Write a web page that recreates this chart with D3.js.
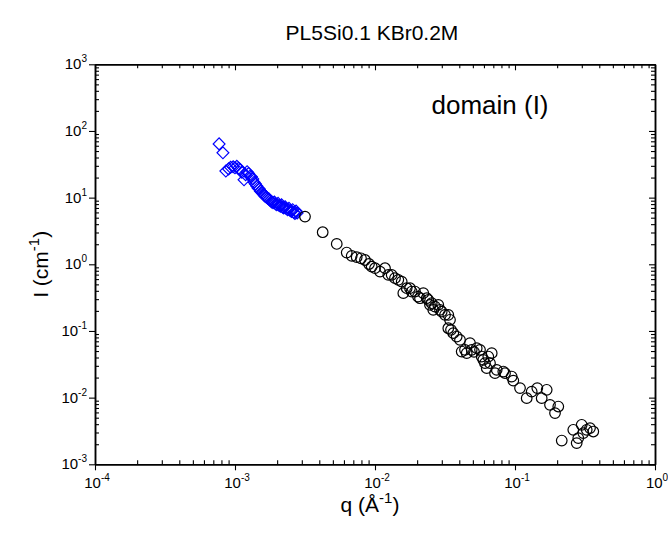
<!DOCTYPE html>
<html><head><meta charset="utf-8">
<script src="https://cdn.jsdelivr.net/npm/d3@7"></script>
<style>body{margin:0;background:#fff}svg{display:block;font-family:"Liberation Sans",Arial,sans-serif}</style>
</head><body><svg id="c" width="668" height="534"></svg>
<script>
// ---- data ----
const title = "PL5Si0.1 KBr0.2M";
const annotation = "domain (I)";
const xTickExp = [-4, -3, -2, -1, 0];
const yTickExp = [-3, -2, -1, 0, 1, 2, 3];
// blue diamonds (low q)
const qLow = [0.00077,0.00082,0.00086,0.00090,0.00093,0.00097,0.00100,0.00103,0.00106,0.00109,0.00112,0.00116,0.00119,0.00122,0.00125,0.00128,0.00131,0.00134,0.00137,0.00140,0.00143,0.00146,0.00149,0.00152,0.00155,0.00158,0.00161,0.00164,0.00167,0.00171,0.00175,0.00179,0.00183,0.00187,0.00191,0.00195,0.00199,0.00203,0.00207,0.00211,0.00215,0.00219,0.00223,0.00228,0.00233,0.00238,0.00243,0.00248,0.00253,0.00258,0.00263,0.00268,0.00273,0.00278];
const ILow = [64,47,25,27,28.5,29,28,29.5,27.5,26.5,24,18.5,22,24.5,23,21,20.5,19,17,16,15,14,13.5,12.5,12,11.5,11,10.5,10.2,9.8,9.5,9.0,8.6,8.4,8.6,8.0,7.8,8.2,7.6,7.4,7.8,7.2,7.0,7.3,6.8,6.6,6.9,6.4,6.2,6.6,6.0,5.8,6.3,5.9];
// black circles (high q)
const qHigh = [0.003162,0.00423,0.00533,0.00628,0.00682,0.00740,0.00794,0.00848,0.00906,0.00947,0.0100,0.01086,0.01179,0.01245,0.01316,0.01389,0.01467,0.01551,0.01593,0.01684,0.01778,0.01829,0.01931,0.02028,0.02096,0.02213,0.02341,0.02403,0.02471,0.02541,0.02608,0.02683,0.02832,0.02912,0.02995,0.03162,0.03339,0.03433,0.03339,0.03490,0.03624,0.03833,0.04046,0.04161,0.04394,0.04519,0.04771,0.04906,0.05094,0.05326,0.05623,0.05782,0.05937,0.06105,0.06279,0.06446,0.06628,0.06817,0.07196,0.07400,0.08249,0.08483,0.09471,0.09725,0.1086,0.1212,0.1316,0.1443,0.1551,0.1684,0.1778,0.1931,0.2038,0.2157,0.2608,0.2758,0.2832,0.2995,0.3075,0.3252,0.3433,0.3624];
const IHigh = [5.19,3.03,2.02,1.50,1.34,1.28,1.23,1.16,1.01,0.924,0.874,0.777,0.874,0.694,0.694,0.619,0.584,0.550,0.369,0.438,0.438,0.390,0.390,0.328,0.310,0.369,0.310,0.293,0.246,0.261,0.207,0.232,0.246,0.207,0.195,0.174,0.174,0.147,0.110,0.104,0.0927,0.0824,0.0735,0.0491,0.0521,0.0465,0.0656,0.0521,0.0486,0.0552,0.0521,0.0413,0.0369,0.0329,0.0277,0.0413,0.0329,0.0465,0.0233,0.0261,0.0246,0.0233,0.0207,0.0180,0.0139,0.00983,0.0123,0.0139,0.00983,0.0131,0.00780,0.00586,0.00735,0.00227,0.00329,0.00208,0.00247,0.00391,0.00294,0.00329,0.00349,0.00310];

// ---- layout ----
const L = 95, R = 655, T = 64.3, B = 464.3;
const svg = d3.select("#c");
const x = d3.scaleLog().domain([1e-4, 1]).range([L, R]);
const y = d3.scaleLog().domain([1e-3, 1e3]).range([B, T]);

const minors = (lo, hi) => { const a = []; for (let e = lo; e < hi; e++) for (let m = 2; m <= 9; m++) a.push(m * Math.pow(10, e)); return a; };
const xMaj = xTickExp.map(e => Math.pow(10, e)), yMaj = yTickExp.map(e => Math.pow(10, e));
const xMin = minors(-4, 0), yMin = minors(-3, 3);

function axis(gen, scale, vals, size, tr) {
  const g = svg.append("g").attr("transform", tr)
    .call(gen(scale).tickValues(vals).tickSize(size).tickFormat("").tickSizeOuter(0));
  g.selectAll("path").attr("stroke", "#000").attr("stroke-width", 1.5);
  g.selectAll("line").attr("stroke", "#000").attr("stroke-width", 1.1);
  return g;
}
axis(d3.axisBottom, x, xMin, -4, `translate(0,${B})`);
axis(d3.axisBottom, x, xMaj, 6, `translate(0,${B})`);
axis(d3.axisTop, x, xMin, -4, `translate(0,${T})`);
axis(d3.axisTop, x, xMaj, -6, `translate(0,${T})`);
axis(d3.axisLeft, y, yMin, -4, `translate(${L},0)`);
axis(d3.axisLeft, y, yMaj, 6, `translate(${L},0)`);
axis(d3.axisRight, y, yMin, -4, `translate(${R},0)`);
axis(d3.axisRight, y, yMaj, -6, `translate(${R},0)`);

// tick labels
xTickExp.forEach(e => {
  const t = svg.append("text").attr("x", x(Math.pow(10, e)) + 2).attr("y", B + 24)
    .attr("text-anchor", "middle").attr("font-size", 15).attr("fill", "#000");
  t.append("tspan").text("10");
  t.append("tspan").attr("font-size", 10).attr("dy", -7).text(e);
});
yTickExp.forEach(e => {
  const t = svg.append("text").attr("x", L - 8).attr("y", y(Math.pow(10, e)) + 5)
    .attr("text-anchor", "end").attr("font-size", 15).attr("fill", "#000");
  t.append("tspan").text("10");
  t.append("tspan").attr("font-size", 10).attr("dy", -7).text(e);
});

// axis titles
const xt = svg.append("text").attr("x", 370).attr("y", 512).attr("text-anchor", "middle").attr("font-size", 21);
xt.append("tspan").text("q (Å");
xt.append("tspan").attr("font-size", 15).attr("dy", -9).text("-1");
xt.append("tspan").attr("dy", 9).text(")");
const yt = svg.append("text").attr("transform", `translate(48,${(T + B) / 2}) rotate(-90)`).attr("text-anchor", "middle").attr("font-size", 21);
yt.append("tspan").text("I (cm");
yt.append("tspan").attr("font-size", 15).attr("dy", -9).text("-1");
yt.append("tspan").attr("dy", 9).text(")");

svg.append("text").attr("x", 372).attr("y", 40).attr("text-anchor", "middle").attr("font-size", 21).text(title);
svg.append("text").attr("x", 490).attr("y", 114).attr("text-anchor", "middle").attr("font-size", 26).text(annotation);

// data marks
const dataLow = qLow.map((q, i) => ({ q, I: ILow[i] }));
const dataHigh = qHigh.map((q, i) => ({ q, I: IHigh[i] }));
const plot = svg.append("g");
plot.selectAll(".d").data(dataLow).enter().append("path")
  .attr("d", d3.symbol(d3.symbolSquare, 70)())
  .attr("transform", d => `translate(${x(d.q)},${y(d.I)}) rotate(45)`)
  .attr("fill", "none").attr("stroke", "#0000ff").attr("stroke-width", 1.2);
plot.selectAll(".c").data(dataHigh).enter().append("circle")
  .attr("cx", d => x(d.q)).attr("cy", d => y(d.I)).attr("r", 5.3)
  .attr("fill", "none").attr("stroke", "#000").attr("stroke-width", 1.2);
</script></body></html>
